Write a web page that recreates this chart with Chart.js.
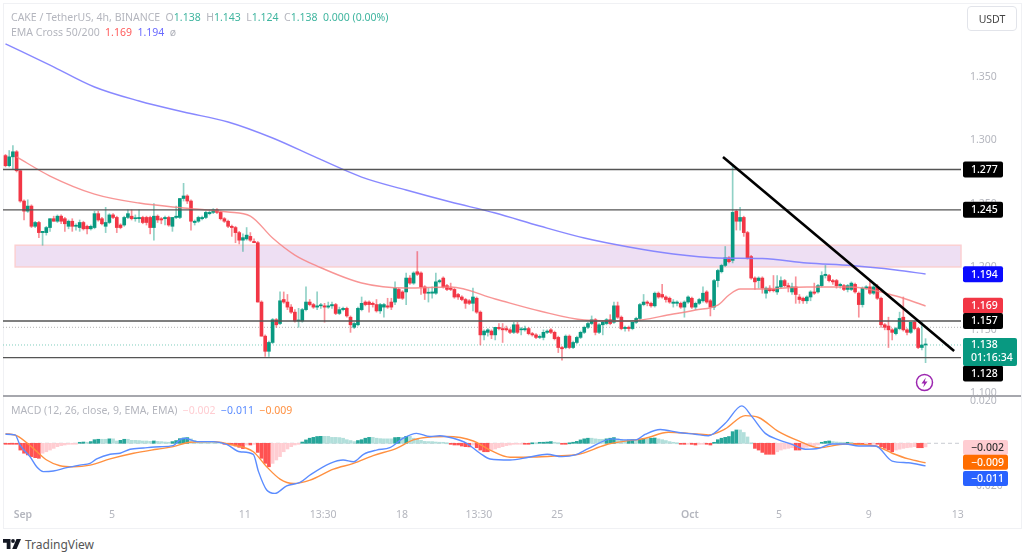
<!DOCTYPE html>
<html>
<head>
<meta charset="utf-8">
<script src="https://cdn.jsdelivr.net/npm/chart.js@4/dist/chart.umd.js"></script>
<style>
  html, body { margin: 0; padding: 0; background: #fff; overflow: hidden; }
  body { width: 1024px; height: 554px; position: relative; font-family: "Noto Sans", sans-serif; }
  canvas { position: absolute; left: 0; }
  #priceCanvas { top: 0; }
  #macdCanvas { top: 396px; }
  .frame { position: absolute; left: 3px; top: 3px; width: 1017px; height: 524px; border: 1px solid #f0f1f4; box-sizing: content-box; }
  .divider { position: absolute; left: 3px; top: 395px; width: 1018px; height: 2px; background: #a6a7ad; }
  .legend { position: absolute; left: 11px; font-size: 10.5px; color: #b4b6be; white-space: pre; }
  .up { color: #3fb59f; } .red { color: #ff5a5a; } .blue { color: #6a6aff; }
  .pink { color: #ffcdd2; } .mblue { color: #5b8cff; } .orange { color: #ff9040; }
  .usdt { position: absolute; left: 967px; top: 6px; width: 50px; height: 25px; line-height: 24px; border: 1px solid #e2e4ea; border-radius: 4px; box-sizing: border-box; text-align: center; font-size: 10.5px; color: #444; }
  .brand { position: absolute; left: 25px; top: 536px; font-size: 12px; color: #555; }
  svg { position: absolute; }
</style>
</head>
<body>
<div class="frame"></div>
<canvas id="priceCanvas" width="1024" height="396"></canvas>
<canvas id="macdCanvas" width="1024" height="131"></canvas>
<div class="divider"></div>
<div class="legend" style="top:10px">CAKE / TetherUS, 4h, BINANCE  O<span class="up">1.138</span>  H<span class="up">1.143</span>  L<span class="up">1.124</span>  C<span class="up">1.138</span>  <span class="up">0.000 (0.00%)</span></div>
<div class="legend" style="top:25px">EMA Cross 50/200  <span class="red">1.169</span>  <span class="blue">1.194</span>  ø</div>
<div class="legend" style="top:403px">MACD (12, 26, close, 9, EMA, EMA)  <span class="pink">−0.002</span>  <span class="mblue">−0.011</span>  <span class="orange">−0.009</span></div>
<div class="usdt">USDT</div>
<svg style="left:915px;top:373px" width="19" height="19" viewBox="0 0 19 19">
  <circle cx="9.5" cy="9.5" r="8" fill="none" stroke="#9c27b0" stroke-width="1.5"/>
  <path d="M10.8 4.5 L6.5 10.4 H9.2 L8.2 14.5 L12.5 8.6 H9.8 Z" fill="#9c27b0"/>
</svg>
<svg style="left:3px;top:539px" width="18" height="10" viewBox="0 0 18 10">
  <path d="M0 0 H7.5 V10 H3.7 V3.8 H0 Z" fill="#131722"/>
  <circle cx="10" cy="2" r="1.9" fill="#131722"/>
  <path d="M13.5 0 H18 L13.6 10 H9.2 Z" fill="#131722"/>
</svg>
<div class="brand">TradingView</div>

<script>
// candles, 4h
const opens = [
  1.288,1.280,1.287,1.291,1.276,1.252,1.244,1.248,1.232,1.235,1.227,1.227,1.231,1.238,1.236,1.240,1.238,1.232,1.236,1.232,
  1.231,1.235,1.232,1.230,1.231,1.242,1.238,1.232,1.235,1.241,1.239,1.233,1.233,1.239,1.240,1.238,1.238,1.239,1.239,1.239,
  1.231,1.240,1.238,1.238,1.239,1.232,1.239,1.239,1.254,1.256,1.252,1.235,1.236,1.238,1.239,1.242,1.243,1.245,1.243,1.238,
  1.236,1.232,1.231,1.227,1.221,1.222,1.224,1.220,1.219,1.172,1.145,1.133,1.140,1.158,1.155,1.174,1.172,1.168,1.164,1.157,
  1.157,1.166,1.172,1.170,1.168,1.169,1.169,1.168,1.169,1.170,1.163,1.166,1.167,1.160,1.152,1.154,1.166,1.172,1.172,1.171,
  1.170,1.165,1.168,1.169,1.172,1.172,1.182,1.180,1.180,1.191,1.187,1.196,1.195,1.184,1.179,1.179,1.179,1.188,1.191,1.185,
  1.183,1.182,1.178,1.176,1.174,1.173,1.171,1.175,1.164,1.146,1.148,1.149,1.146,1.152,1.151,1.151,1.150,1.148,1.154,1.150,
  1.150,1.151,1.147,1.146,1.144,1.144,1.148,1.150,1.148,1.144,1.136,1.136,1.145,1.136,1.140,1.144,1.148,1.152,1.155,1.158,
  1.148,1.154,1.155,1.158,1.156,1.169,1.160,1.151,1.152,1.151,1.156,1.159,1.170,1.172,1.171,1.169,1.179,1.178,1.176,1.175,
  1.171,1.171,1.171,1.168,1.172,1.175,1.168,1.171,1.173,1.180,1.173,1.168,1.189,1.196,1.201,1.207,1.205,1.244,1.236,1.239,
  1.227,1.208,1.191,1.189,1.191,1.179,1.183,1.182,1.180,1.184,1.189,1.185,1.180,1.184,1.176,1.175,1.173,1.176,1.180,1.180,
  1.185,1.193,1.193,1.189,1.189,1.185,1.185,1.182,1.182,1.186,1.179,1.170,1.183,1.184,1.179,1.184,1.175,1.154,1.153,1.150,
  1.147,1.151,1.160,1.150,1.148,1.156,1.151,1.136,1.138
];
const highs = [
  1.289,1.292,1.296,1.292,1.277,1.253,1.253,1.249,1.236,1.236,1.228,1.232,1.238,1.240,1.241,1.241,1.239,1.237,1.238,1.234,
  1.237,1.236,1.233,1.233,1.244,1.244,1.239,1.247,1.242,1.242,1.240,1.234,1.240,1.245,1.245,1.241,1.245,1.240,1.240,1.240,
  1.250,1.241,1.239,1.240,1.240,1.239,1.248,1.254,1.266,1.257,1.253,1.237,1.240,1.240,1.244,1.245,1.246,1.246,1.244,1.239,
  1.237,1.233,1.232,1.228,1.226,1.231,1.227,1.222,1.220,1.173,1.146,1.141,1.159,1.159,1.180,1.180,1.178,1.170,1.166,1.167,
  1.167,1.184,1.174,1.171,1.180,1.171,1.171,1.172,1.172,1.171,1.168,1.168,1.168,1.161,1.156,1.168,1.176,1.173,1.173,1.172,
  1.174,1.171,1.171,1.175,1.175,1.188,1.183,1.181,1.195,1.193,1.196,1.212,1.196,1.185,1.183,1.184,1.195,1.190,1.192,1.186,
  1.187,1.183,1.179,1.177,1.175,1.174,1.183,1.176,1.165,1.150,1.151,1.150,1.152,1.155,1.155,1.153,1.151,1.156,1.156,1.152,
  1.153,1.152,1.148,1.147,1.146,1.150,1.150,1.151,1.149,1.145,1.137,1.146,1.146,1.141,1.145,1.149,1.153,1.156,1.161,1.159,
  1.155,1.157,1.159,1.162,1.172,1.172,1.161,1.153,1.153,1.156,1.160,1.171,1.178,1.173,1.172,1.180,1.180,1.186,1.177,1.176,
  1.174,1.173,1.172,1.173,1.177,1.176,1.172,1.175,1.184,1.181,1.174,1.190,1.198,1.202,1.216,1.208,1.281,1.245,1.247,1.240,
  1.228,1.209,1.192,1.192,1.192,1.184,1.185,1.193,1.193,1.192,1.190,1.187,1.187,1.192,1.178,1.176,1.177,1.181,1.187,1.186,
  1.196,1.201,1.194,1.190,1.190,1.187,1.186,1.186,1.188,1.187,1.180,1.184,1.185,1.189,1.186,1.186,1.176,1.155,1.160,1.151,
  1.152,1.164,1.176,1.151,1.156,1.157,1.152,1.156,1.143
];
const lows = [
  1.279,1.279,1.277,1.275,1.251,1.237,1.243,1.231,1.231,1.223,1.217,1.225,1.228,1.236,1.235,1.234,1.228,1.230,1.228,1.229,
  1.228,1.229,1.226,1.229,1.230,1.236,1.233,1.227,1.234,1.238,1.227,1.230,1.232,1.238,1.237,1.236,1.235,1.234,1.233,1.226,
  1.221,1.235,1.234,1.233,1.232,1.228,1.238,1.238,1.252,1.250,1.229,1.233,1.235,1.237,1.238,1.241,1.242,1.242,1.237,1.235,
  1.231,1.224,1.219,1.218,1.212,1.221,1.220,1.219,1.172,1.145,1.129,1.129,1.139,1.152,1.154,1.171,1.166,1.163,1.156,1.152,
  1.156,1.165,1.169,1.167,1.166,1.167,1.156,1.167,1.167,1.162,1.162,1.165,1.160,1.148,1.151,1.153,1.165,1.169,1.164,1.168,
  1.164,1.163,1.160,1.167,1.166,1.170,1.175,1.174,1.170,1.186,1.186,1.193,1.178,1.174,1.172,1.175,1.178,1.187,1.183,1.181,
  1.181,1.175,1.174,1.173,1.167,1.170,1.165,1.163,1.138,1.142,1.145,1.143,1.142,1.150,1.140,1.149,1.147,1.147,1.147,1.146,
  1.149,1.146,1.145,1.143,1.143,1.142,1.147,1.147,1.142,1.132,1.126,1.135,1.135,1.135,1.139,1.143,1.147,1.151,1.154,1.146,
  1.147,1.146,1.154,1.154,1.155,1.159,1.150,1.149,1.149,1.150,1.155,1.158,1.169,1.169,1.168,1.168,1.175,1.175,1.172,1.171,
  1.168,1.169,1.167,1.160,1.171,1.167,1.166,1.170,1.172,1.171,1.161,1.166,1.184,1.195,1.200,1.203,1.203,1.229,1.229,1.224,
  1.206,1.190,1.182,1.183,1.179,1.175,1.180,1.180,1.178,1.183,1.184,1.180,1.178,1.171,1.171,1.171,1.171,1.173,1.178,1.179,
  1.184,1.191,1.188,1.186,1.183,1.183,1.181,1.180,1.181,1.179,1.160,1.168,1.182,1.178,1.178,1.174,1.152,1.150,1.136,1.142,
  1.146,1.150,1.149,1.146,1.147,1.150,1.135,1.134,1.124
];
const closes = [
  1.280,1.287,1.291,1.276,1.252,1.244,1.248,1.232,1.235,1.227,1.228,1.231,1.238,1.236,1.240,1.236,1.234,1.236,1.232,1.232,
  1.235,1.230,1.230,1.232,1.242,1.237,1.234,1.235,1.241,1.239,1.231,1.231,1.239,1.242,1.238,1.238,1.239,1.235,1.235,1.231,
  1.240,1.237,1.237,1.239,1.233,1.239,1.240,1.254,1.256,1.252,1.236,1.236,1.239,1.239,1.243,1.243,1.245,1.243,1.238,1.236,
  1.232,1.231,1.227,1.221,1.223,1.225,1.221,1.219,1.172,1.145,1.133,1.140,1.158,1.154,1.173,1.172,1.168,1.164,1.157,1.157,
  1.166,1.172,1.170,1.168,1.169,1.169,1.168,1.169,1.170,1.163,1.166,1.167,1.161,1.154,1.155,1.167,1.171,1.170,1.170,1.170,
  1.165,1.170,1.170,1.168,1.168,1.183,1.175,1.175,1.191,1.187,1.195,1.194,1.184,1.179,1.179,1.180,1.188,1.189,1.184,1.182,
  1.182,1.176,1.176,1.174,1.171,1.171,1.176,1.164,1.146,1.149,1.150,1.146,1.152,1.151,1.150,1.150,1.148,1.154,1.148,1.150,
  1.151,1.147,1.146,1.144,1.144,1.148,1.149,1.148,1.143,1.136,1.135,1.145,1.136,1.140,1.144,1.148,1.152,1.155,1.158,1.148,
  1.154,1.156,1.158,1.155,1.169,1.160,1.151,1.152,1.151,1.156,1.159,1.170,1.172,1.171,1.169,1.179,1.176,1.176,1.174,1.172,
  1.172,1.172,1.168,1.172,1.176,1.168,1.171,1.174,1.179,1.172,1.168,1.189,1.197,1.201,1.207,1.204,1.243,1.236,1.239,1.227,
  1.207,1.191,1.188,1.191,1.183,1.183,1.181,1.181,1.184,1.189,1.185,1.184,1.184,1.178,1.174,1.173,1.176,1.180,1.179,1.185,
  1.193,1.194,1.189,1.188,1.185,1.186,1.182,1.185,1.187,1.180,1.170,1.183,1.184,1.179,1.184,1.175,1.154,1.152,1.150,1.148,
  1.151,1.159,1.150,1.148,1.156,1.151,1.136,1.138,1.138
];

// EMA cross, read at a few candles
const ema200Idx = [0,12,24,36,48,60,72,84,96,108,120,132,144,156,168,180,192,204,216,228,240,248];
const ema200 = [1.3764,1.3597,1.3423,1.3312,1.3225,1.3146,1.3019,1.2861,1.2710,1.2607,1.2512,1.2425,1.2322,1.2227,1.2156,1.2100,1.2069,1.2065,1.2029,1.2009,1.1974,1.1942];
const ema50Idx = [3,12,24,36,48,60,66,72,78,84,96,108,120,132,144,156,168,180,186,192,195,198,204,216,228,240,248];
const ema50 = [1.2869,1.2718,1.2575,1.2504,1.2465,1.2433,1.2401,1.2227,1.2092,1.2005,1.1871,1.1831,1.1839,1.1744,1.1649,1.1578,1.1570,1.1625,1.1657,1.1696,1.1776,1.1823,1.1823,1.1839,1.1839,1.1768,1.1689];

// drawn levels
const levels = [1.277, 1.245, 1.157, 1.128];
const lastClose = 1.138;
const prevDotted = 1.152;
const zoneTop = 1.217;
const zoneBottom = 1.1998;
const zoneStart = 2.6;
const trendIdx = [193.4, 255.7];
const trendVals = [1.2869, 1.1332];

// macd pane
const histVals = [
  -.0003,-.0003,-.0003,-.0003,-.0032,-.0047,-.0055,-.0063,-.0068,-.0071,-.0047,-.0040,-.0032,-.0024,-.0016,-.0011,-.0008,-.0005,-.0003,-.0002,
  .0003,.0006,.0005,.0008,.0017,.0019,.0019,.0019,.0021,.0021,.0011,.0014,.0019,.0019,.0014,.0014,.0013,.0011,.0011,.0009,
  .0011,.0009,.0008,.0006,.0005,.0008,.0013,.0022,.0025,.0027,.0021,.0014,.0009,.0008,.0006,.0006,.0005,.0003,.0002,-.0003,
  -.0006,-.0008,-.0013,-.0019,-.0025,-.0008,-.0008,-.0005,-.0043,-.0071,-.0095,-.0111,-.0095,-.0079,-.0063,-.0040,-.0027,-.0016,-.0008,-.0005,
  .0006,.0016,.0024,.0028,.0032,.0033,.0033,.0033,.0028,.0028,.0027,.0024,.0017,.0013,.0008,.0013,.0017,.0024,.0028,.0028,
  .0024,.0022,.0021,.0021,.0021,.0027,.0028,.0028,.0033,.0033,.0024,.0019,.0014,.0009,.0008,.0008,.0006,.0005,.0003,0,
  -.0005,-.0008,-.0008,-.0013,-.0016,-.0017,-.0008,-.0021,-.0032,-.0040,-.0040,-.0032,-.0027,-.0021,-.0016,-.0011,-.0008,-.0005,-.0003,-.0002,
  -.0002,-.0002,0,0,.0003,.0005,.0006,.0008,.0005,0,-.0003,-.0003,0,.0005,.0009,.0016,.0021,.0024,.0024,.0021,
  .0019,.0019,.0021,.0024,.0027,.0021,.0019,.0014,.0016,.0017,.0017,.0019,.0022,.0022,.0024,.0025,.0021,.0017,.0013,.0008,
  .0003,0,-.0003,-.0005,-.0003,-.0005,-.0008,-.0005,-.0003,-.0003,-.0008,.0003,.0017,.0024,.0028,.0032,.0055,.0063,.0063,.0051,
  .0030,0,-.0024,-.0032,-.0043,-.0052,-.0052,-.0052,-.0040,-.0032,-.0027,-.0024,-.0021,-.0032,-.0032,-.0024,-.0019,-.0016,-.0011,-.0008,
  .0002,.0009,.0011,.0008,.0006,.0005,.0002,.0003,.0002,-.0002,-.0002,-.0003,-.0002,-.0003,-.0002,-.0003,-.0016,-.0024,-.0032,-.0040,
  -.0032,-.0028,-.0024,-.0021,-.0019,-.0016,-.0021,-.0021,-.0017
];
const macdIdx = [0,2.6,3.9,6.6,8.4,10.2,12.9,16.5,20,22.8,24.6,28.2,30.9,33.6,37.2,41.6,45.2,47,48.4,51.5,56,59.6,63.2,66.8,68.2,70.4,72.6,75.8,79.4,82.1,87.5,91,93.8,96.5,100,103.6,107.2,110.8,114.4,117.1,120.7,124.3,127.9,130.6,136,141,146,150,153.6,157.2,163.5,167,169.8,172.5,176.5,181.4,185.9,189.5,194,198.5,201.2,204.8,208.4,212,215.6,219.2,222.8,226.4,230,234.5,239,243.4,248];
const macdVals = [.0043,.0040,-.0008,-.0063,-.0111,-.0134,-.0131,-.0115,-.0103,-.0095,-.0074,-.0052,-.0047,-.0028,-.0022,-.0016,-.0011,.0016,.0024,.0008,.0008,-.0005,-.0040,-.0052,-.0134,-.0221,-.0237,-.0201,-.0185,-.0150,-.0095,-.0079,-.0087,-.0052,-.0032,-.0021,.0024,.0047,.0032,.0036,.0024,0,-.0047,-.0074,-.0079,-.0066,-.0052,-.0063,-.0055,-.0024,.0021,.0016,.0016,.0043,.0065,.0051,.0043,.0036,.0095,.0177,.0126,.0047,.0016,-.0005,-.0028,-.0024,-.0003,-.0003,-.0013,-.0013,-.0084,-.0092,-.0107];
const signalIdx = [0,3,7.5,11.1,14.7,18.3,22.8,28.2,34.5,40.8,45.2,49.7,56,61.4,66.8,70.4,74,77.6,82.1,88.4,93.8,99.1,105.4,109.9,114.4,118.9,126.1,130.6,136,142,148,154.5,161.7,166.2,172.5,178.7,184.2,189.5,194,199.4,203,208.4,213.8,219.2,226.4,234.5,239,243.4,248];
const signalVals = [.0046,.0036,-.0024,-.0079,-.0106,-.0111,-.0103,-.0074,-.0047,-.0028,-.0016,.0005,.0008,-.0008,-.0040,-.0111,-.0169,-.0190,-.0174,-.0122,-.0095,-.0058,-.0024,.0016,.0030,.0032,.0011,-.0032,-.0066,-.0065,-.0060,-.0052,-.0008,.0008,.0024,.0052,.0047,.0040,.0068,.0131,.0122,.0055,.0011,-.0021,-.0003,-.0013,-.0047,-.0074,-.0092];

// axes
const priceTicks = [1.10, 1.15, 1.20, 1.25, 1.30, 1.35];
const macdTicks = [-0.02, 0.02];
const dateTickIdx = [4.7, 28.7, 64.5, 85.6, 106.9, 127.6, 148.7, 184.5, 208.5, 232.7, 256.7];
const dateTickLabels = ["Sep", "5", "11", "13:30", "18", "13:30", "25", "Oct", "5", "9", "13"];

// price tags on the right
const tagVals = [1.277, 1.245, 1.194, 1.169, 1.157, 1.128];
const tagColors = ["#000", "#000", "#0a0aff", "#f23645", "#000", "#000"];
const tagNudges = [0, 0, 0, 0, 0, 16];
const macdTagVals = [-0.002, -0.009, -0.011];
const macdTagLabels = ["−0.002", "−0.009", "−0.011"];
const macdTagColors = ["#ffcdd2", "#ff6d00", "#2962ff"];
const macdTagText = ["#333", "#fff", "#fff"];
const macdTagNudges = [0, 0, 12];

const xMin = -0.67, xMax = 257.55;
const fontName = '"Noto Sans", sans-serif';
const axisGrey = "#b4b6be";
const upColor = "#089981", downColor = "#f23645";

function lineSet(xs, ys, color, width, order, extra) {
    return Object.assign({
        type: "line",
        data: xs.map((x, i) => ({ x: x, y: ys[i] })),
        borderColor: color,
        borderWidth: width,
        pointRadius: 0,
        fill: false,
        order: order
    }, extra || {});
}

function levelSet(val, color, width, order, dash) {
    return lineSet([xMin, xMax], [val, val], color, width, order, dash ? { borderDash: dash } : {});
}

function tag(ctx, left, top, width, height, color) {
    ctx.fillStyle = color;
    ctx.beginPath();
    ctx.roundRect(left, top, width, height, 2);
    ctx.fill();
}

// y axis labels near the ends must not push the plot area in
function fitYAxis(scale) {
    scale.width = 63;
    scale.paddingTop = 0;
    scale.paddingBottom = 0;
}

const zonePlugin = {
    id: "zone",
    beforeDatasetsDraw(chart) {
        const { ctx, chartArea, scales } = chart;
        const left = scales.x.getPixelForValue(zoneStart);
        const top = scales.y.getPixelForValue(zoneTop);
        const bottom = scales.y.getPixelForValue(zoneBottom);
        ctx.save();
        ctx.fillStyle = "#eedff3";
        ctx.fillRect(left, top, chartArea.right - left, bottom - top);
        ctx.strokeStyle = "#fbd0d2";
        ctx.lineWidth = 1.5;
        ctx.strokeRect(left, top, chartArea.right - left, bottom - top);
        ctx.restore();
    }
};

const priceTagPlugin = {
    id: "priceTags",
    afterDraw(chart) {
        const { ctx, scales } = chart;
        ctx.save();
        ctx.font = "500 10.5px " + fontName;
        ctx.textBaseline = "middle";
        tagVals.forEach((v, i) => {
            const y = scales.y.getPixelForValue(v) + tagNudges[i];
            tag(ctx, 963, y - 8, 40, 16, tagColors[i]);
            ctx.fillStyle = "#fff";
            ctx.fillText(v.toFixed(3), 971, y + 0.5);
        });
        // current price with the countdown under it
        const y = scales.y.getPixelForValue(lastClose);
        tag(ctx, 963, y - 7, 54, 28, upColor);
        ctx.fillStyle = "#fff";
        ctx.fillText(lastClose.toFixed(3), 971, y + 0.5);
        ctx.fillText("01:16:34", 971, y + 13.5);
        ctx.restore();
    }
};

const macdTagPlugin = {
    id: "macdTags",
    afterDraw(chart) {
        const { ctx, scales } = chart;
        ctx.save();
        ctx.font = "500 10.5px " + fontName;
        ctx.textBaseline = "middle";
        macdTagVals.forEach((v, i) => {
            const y = scales.y.getPixelForValue(v) + macdTagNudges[i];
            tag(ctx, 963, y - 7.5, 45, 15, macdTagColors[i]);
            ctx.fillStyle = macdTagText[i];
            ctx.fillText(macdTagLabels[i], 971, y + 0.5);
        });
        ctx.restore();
    }
};

const candleColors = closes.map((c, i) => c >= opens[i] ? upColor : downColor);
const wickColors = closes.map((c, i) => c >= opens[i] ? "rgba(8,153,129,0.45)" : "rgba(242,54,69,0.55)");

const priceDatasets = [
    {
        label: "wicks",
        data: highs.map((h, i) => ({ x: i, y: [lows[i], h] })),
        backgroundColor: wickColors,
        barThickness: 1,
        grouped: false,
        order: 6
    },
    {
        label: "bodies",
        data: opens.map((o, i) => ({ x: i, y: [o, closes[i]] })),
        backgroundColor: candleColors,
        barThickness: 3,
        minBarLength: 1,
        grouped: false,
        order: 5
    },
    lineSet(ema50Idx, ema50, "rgba(247,130,130,0.85)", 1.4, 4, { cubicInterpolationMode: "monotone" }),
    lineSet(ema200Idx, ema200, "rgba(130,130,255,0.95)", 1.4, 4, { cubicInterpolationMode: "monotone" }),
    levelSet(prevDotted, "#b5b5b5", 1, 7, [1, 2]),
    levelSet(lastClose, "#7fcdbd", 1, 7, [1, 2]),
    lineSet(trendIdx, trendVals, "#000", 2.6, 1)
];
levels.forEach(v => priceDatasets.push(levelSet(v, "#555", 1.4, 3)));

new Chart(document.getElementById("priceCanvas"), {
    type: "bar",
    data: { datasets: priceDatasets },
    options: {
        responsive: false,
        animation: false,
        events: [],
        layout: { padding: { left: 3, right: 0, top: 0, bottom: 0 } },
        plugins: { legend: { display: false }, tooltip: { enabled: false } },
        scales: {
            x: { type: "linear", display: false, offset: false, min: xMin, max: xMax, grid: { display: false } },
            y: {
                position: "right",
                min: 1.0976,
                max: 1.4112,
                grid: { display: false, drawTicks: false },
                border: { display: false },
                afterFit: fitYAxis,
                afterBuildTicks(scale) { scale.ticks = priceTicks.map(v => ({ value: v })); },
                ticks: {
                    color: axisGrey,
                    padding: 9,
                    autoSkip: false,
                    font: { family: fontName, size: 10.5 },
                    callback: v => v.toFixed(3)
                }
            }
        }
    },
    plugins: [zonePlugin, priceTagPlugin]
});

// same colouring as the TradingView histogram: darker while the bar grows
const histColors = histVals.map((v, i) => {
    const prev = i > 0 ? histVals[i - 1] : 0;
    if (v >= 0) return prev < v ? "#26a69a" : "#b2dfdb";
    return prev < v ? "#ffcdd2" : "#ff5252";
});

new Chart(document.getElementById("macdCanvas"), {
    type: "bar",
    data: {
        datasets: [
            {
                label: "hist",
                data: histVals.map((v, i) => ({ x: i, y: v })),
                backgroundColor: histColors,
                barThickness: 3,
                minBarLength: 1,
                grouped: false,
                order: 4
            },
            levelSet(0, "#c9cbd1", 1, 5, [4, 3]),
            lineSet(signalIdx, signalVals, "#ff9040", 1.4, 2, { cubicInterpolationMode: "monotone" }),
            lineSet(macdIdx, macdVals, "#5b8cff", 1.4, 1, { cubicInterpolationMode: "monotone" })
        ]
    },
    options: {
        responsive: false,
        animation: false,
        events: [],
        layout: { padding: { left: 3, right: 0, top: 0, bottom: 0 } },
        plugins: { legend: { display: false }, tooltip: { enabled: false } },
        scales: {
            x: {
                type: "linear",
                offset: false,
                min: xMin,
                max: xMax,
                grid: { display: false, drawTicks: false },
                border: { display: false },
                afterFit(scale) { scale.height = 24; },
                afterBuildTicks(scale) { scale.ticks = dateTickIdx.map(v => ({ value: v })); },
                ticks: {
                    color: axisGrey,
                    padding: 6,
                    autoSkip: false,
                    maxRotation: 0,
                    font: ctx => ({
                        family: fontName,
                        size: 10.5,
                        weight: /[A-Za-z]/.test(dateTickLabels[ctx.index] || "") ? "600" : "400"
                    }),
                    callback: (v, i) => dateTickLabels[i]
                }
            },
            y: {
                position: "right",
                min: -0.02823,
                max: 0.02236,
                grid: { display: false, drawTicks: false },
                border: { display: false },
                afterFit: fitYAxis,
                afterBuildTicks(scale) { scale.ticks = macdTicks.map(v => ({ value: v })); },
                ticks: {
                    color: axisGrey,
                    padding: 9,
                    autoSkip: false,
                    font: { family: fontName, size: 10.5 },
                    callback: v => v.toFixed(3).replace("-", "−")
                }
            }
        }
    },
    plugins: [macdTagPlugin]
});
</script>
</body>
</html>
